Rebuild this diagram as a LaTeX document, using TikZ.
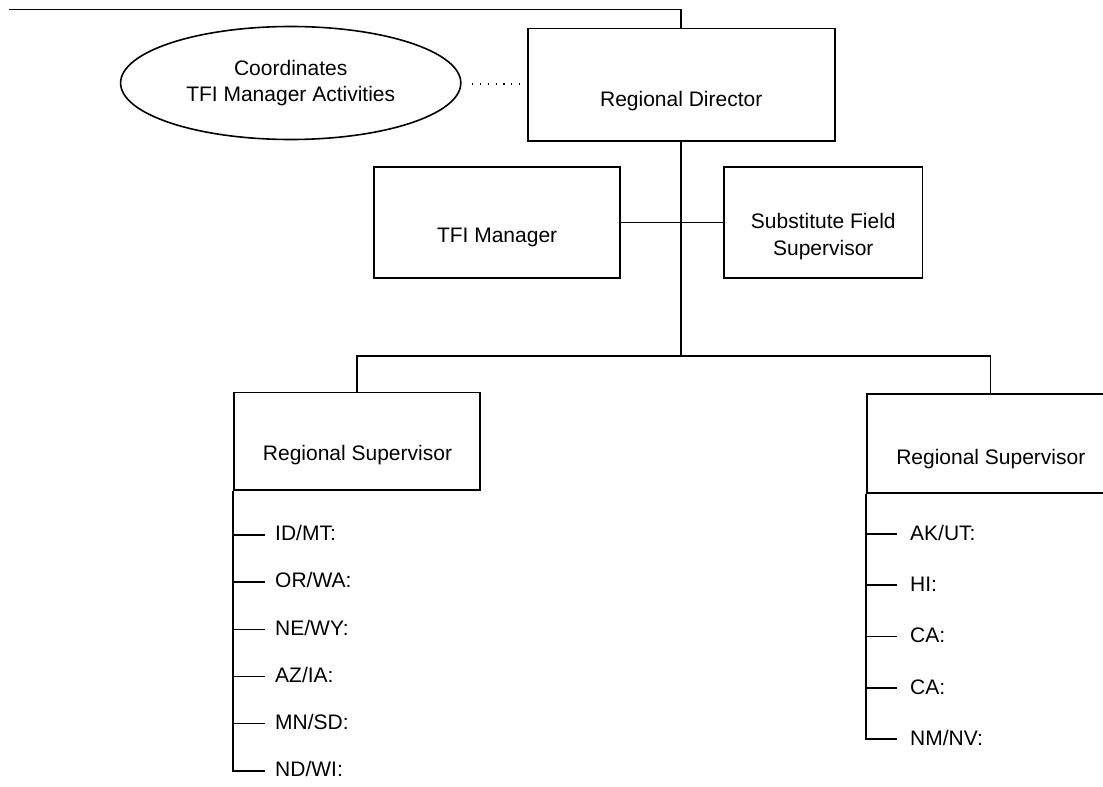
\documentclass[tikz,border=0pt]{standalone}
\usepackage{fontspec}
\setmainfont{Liberation Sans}
\usetikzlibrary{shapes.geometric,calc}
\tikzset{
  ln/.style={line width=1.6pt, black},
  boxn/.style={draw, ln, rectangle, inner sep=0pt},
  ovaln/.style={draw, ln, ellipse, inner sep=0pt},
  txt/.style={inner sep=0pt, font=\fontsize{21}{26.5}\selectfont, text=black},
  dotln/.style={ln, line width=1.4pt, dash pattern=on 1.2pt off 6.6pt},
}
\begin{document}
\begin{tikzpicture}[x=1pt,y=-1pt]
\path[use as bounding box, clip] (0,0) rectangle (1103,787);
\fill[white] (0,0) rectangle (1103,787);

% boxes
\node[boxn, minimum width=307pt, minimum height=112.4pt] (rd) at (681.25,84.5) {};
\node[boxn, minimum width=246.2pt, minimum height=111pt] (tfi) at (497.1,222.5) {};
\node[boxn, minimum width=198.6pt, minimum height=111pt] (sub) at (823.3,222.5) {};
\node[boxn, minimum width=246pt, minimum height=97.7pt] (ls) at (357,441.2) {};
\node[boxn, minimum width=247.6pt, minimum height=98.7pt] (rs) at (990.5,443.4) {};
\node[ovaln, minimum width=340.2pt, minimum height=113pt, txt, align=center] (ell) at (290.7,83) {Coordinates\\TFI Manager Activities};

% box texts
\node[txt, anchor=base] (rdt) at (681.25,106) {Regional Director};
\node[txt, anchor=base] (tfit) at (497.1,242) {TFI Manager};
\node[txt, align=center] (subt) at (823.3,236.8) {Substitute Field\\Supervisor};
\node[txt, anchor=base] (lst) at (357.5,460.7) {Regional Supervisor};
\node[txt, anchor=base] (rst) at (990.8,464) {Regional Supervisor};

% connectors
\coordinate (start) at (9,9.5);
\coordinate (j) at (681.25,356);
\draw[ln] (start) -| (rd.north);
\draw[ln] (rd.south) -- (j);
\draw[ln] (tfi.east) -- (sub.west);
\draw[ln] (ls.north) |- (j);
\draw[ln] (j) -| (rs.north);
\draw[dotln] ($(ell.east)+(10.5,1)$) -- ($(ell.east -| rd.west)+(-8,1)$);

% left list
\foreach \i/\y/\t in {1/535/{ID/MT:},2/582.1/{OR/WA:},3/629.3/{NE/WY:},4/676.4/{AZ/IA:},5/723.6/{MN/SD:},6/770.7/{ND/WI:}}{
  \coordinate (ld\i) at (265,\y);
  \node[txt, anchor=base west] (lt\i) at (275,\y+5.8) {\t};
}
\draw[ln] (ls.south west) |- (ld6);
\foreach \i in {1,...,5}{ \draw[ln] (ls.south west |- ld\i) -- (ld\i); }

% right list
\foreach \i/\y/\t in {1/534/{AK/UT:},2/585.25/{HI:},3/636.5/{CA:},4/687.75/{CA:},5/739/{NM/NV:}}{
  \coordinate (rdd\i) at (896.7,\y);
  \node[txt, anchor=base west] (rt\i) at (910,\y+6.3) {\t};
}
\draw[ln] (rs.south west) |- (rdd5);
\foreach \i in {1,...,4}{ \draw[ln] (rs.south west |- rdd\i) -- (rdd\i); }
\end{tikzpicture}
\end{document}
